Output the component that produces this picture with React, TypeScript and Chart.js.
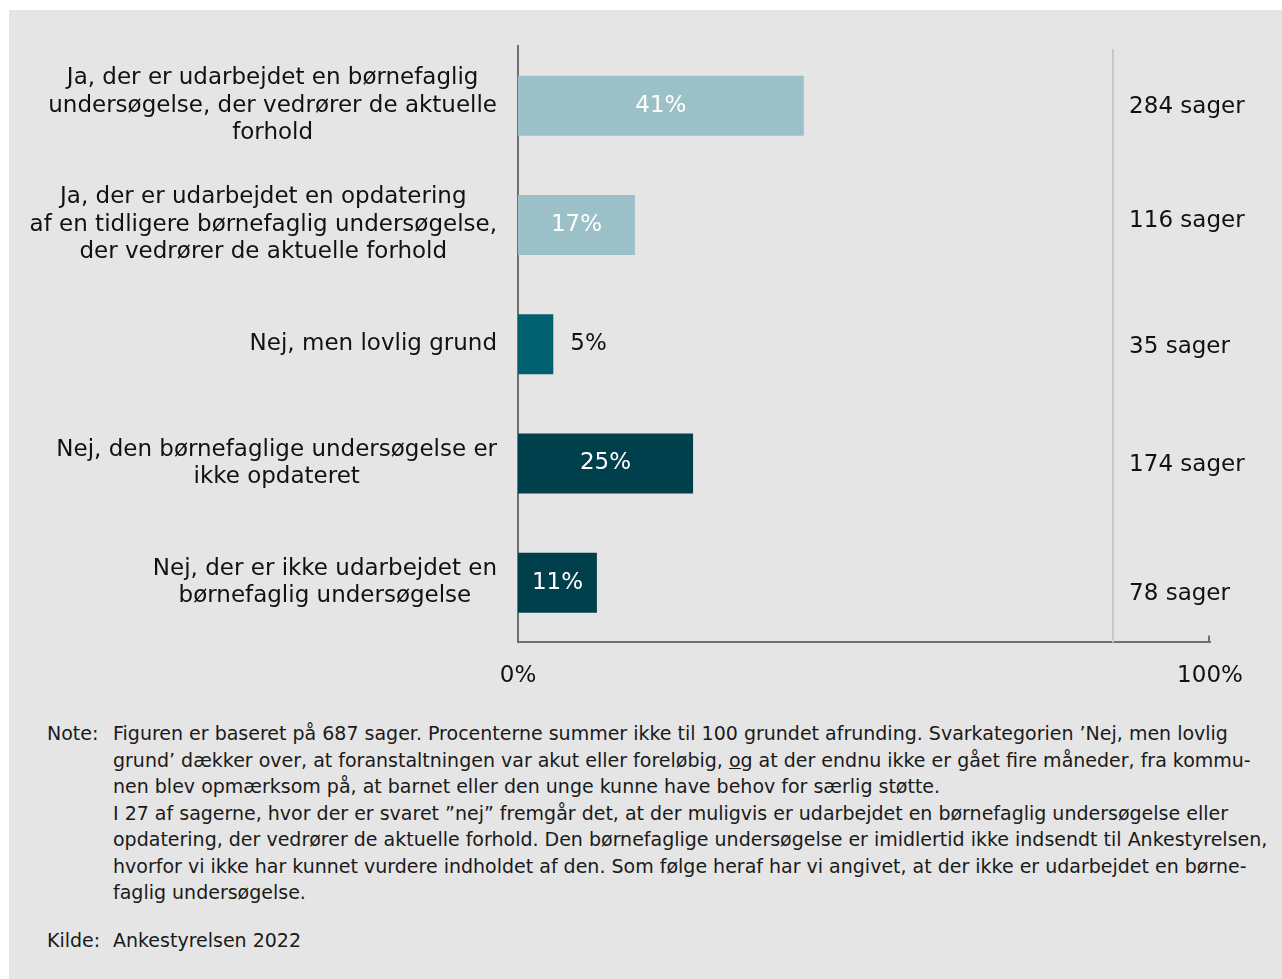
import React, { useEffect, useRef } from "react";
import { Chart, registerables } from "chart.js";

Chart.register(...registerables);

const categoryLines: string[][] = [
  ["Ja, der er udarbejdet en børnefaglig", "undersøgelse, der vedrører de aktuelle", "forhold"],
  ["Ja, der er udarbejdet en opdatering", "af en tidligere børnefaglig undersøgelse,", "der vedrører de aktuelle forhold"],
  ["Nej, men lovlig grund"],
  ["Nej, den børnefaglige undersøgelse er", "ikke opdateret"],
  ["Nej, der er ikke udarbejdet en", "børnefaglig undersøgelse"],
];
// unrounded shares (bar lengths) and the rounded labels shown on the bars
const barShares = [41.3, 16.9, 5.1, 25.3, 11.4];
const percentages = [41, 17, 5, 25, 11];
const caseCounts = [284, 116, 35, 174, 78];
const barColors = ["#9BC0C7", "#9BC0C7", "#00606E", "#003F4C", "#003F4C"];
const xTickValues = [0, 100];
const dividerValue = 86;
const countLabelNudge = [1, -4, 3, 2, 11];

const noteLines = [
  "Figuren er baseret på 687 sager. Procenterne summer ikke til 100 grundet afrunding. Svarkategorien ’Nej, men lovlig",
  "grund’ dækker over, at foranstaltningen var akut eller foreløbig, |og| at der endnu ikke er gået fire måneder, fra kommu-",
  "nen blev opmærksom på, at barnet eller den unge kunne have behov for særlig støtte.",
  "I 27 af sagerne, hvor der er svaret ”nej” fremgår det, at der muligvis er udarbejdet en børnefaglig undersøgelse eller",
  "opdatering, der vedrører de aktuelle forhold. Den børnefaglige undersøgelse er imidlertid ikke indsendt til Ankestyrelsen,",
  "hvorfor vi ikke har kunnet vurdere indholdet af den. Som følge heraf har vi angivet, at der ikke er udarbejdet en børne-",
  "faglig undersøgelse.",
];
const sourceText = "Ankestyrelsen 2022";

const FONT = '"DejaVu Sans", Verdana, sans-serif';
const AXIS_COLOR = "#707070";

const decorPlugin = {
  id: "decor",
  beforeDatasetsDraw(chart: any) {
    const { ctx, chartArea, scales } = chart;
    const x = scales.x;
    const px = Math.round(x.getPixelForValue(dividerValue));
    ctx.save();
    ctx.strokeStyle = "#C8C8C8";
    ctx.lineWidth = 2;
    ctx.beginPath();
    ctx.moveTo(px, chartArea.top + 3);
    ctx.lineTo(px, chartArea.bottom);
    ctx.stroke();
    ctx.restore();
  },
  afterDraw(chart: any) {
    const { ctx, chartArea, scales } = chart;
    const x = scales.x;
    const y = scales.y;
    ctx.save();
    const p100 = x.getPixelForValue(100);
    ctx.strokeStyle = AXIS_COLOR;
    ctx.lineWidth = 2;
    ctx.beginPath();
    ctx.moveTo(p100 - 1, chartArea.bottom);
    ctx.lineTo(p100 - 1, chartArea.bottom - 7);
    ctx.stroke();

    ctx.font = `23px ${FONT}`;
    ctx.textBaseline = "middle";
    ctx.fillStyle = "#111";
    categoryLines.forEach((lines, i) => {
      const cy = y.getPixelForValue(i);
      const widths = lines.map((l) => ctx.measureText(l).width);
      const maxW = Math.max(...widths);
      const cx = chartArea.left - 21 - maxW / 2;
      ctx.textAlign = "center";
      lines.forEach((l, j) => {
        const ly = cy + (j - (lines.length - 1) / 2) * 27.5;
        ctx.fillText(l, cx, ly);
      });
    });
    const meta = chart.getDatasetMeta(0);
    meta.data.forEach((bar: any, i: number) => {
      const v = percentages[i];
      const txt = `${v}%`;
      if (v >= 8) {
        ctx.fillStyle = "#FFFFFF";
        ctx.textAlign = "center";
        ctx.fillText(txt, (bar.x + bar.base) / 2, bar.y);
      } else {
        ctx.fillStyle = "#111";
        ctx.textAlign = "left";
        ctx.fillText(txt, bar.x + 17, bar.y);
      }
    });
    const dx = x.getPixelForValue(dividerValue) + 16;
    ctx.fillStyle = "#111";
    ctx.textAlign = "left";
    caseCounts.forEach((c, i) => {
      ctx.fillText(`${c} sager`, dx, y.getPixelForValue(i) + countLabelNudge[i]);
    });
    ctx.restore();
  },
};

function ChartCanvas() {
  const ref = useRef<HTMLCanvasElement | null>(null);
  useEffect(() => {
    if (!ref.current) return;
    const chart = new Chart(ref.current, {
      type: "bar",
      data: {
        labels: categoryLines.map((l) => l.join(" ")),
        datasets: [
          {
            data: barShares,
            backgroundColor: barColors,
            borderWidth: 0,
            categoryPercentage: 1,
            barPercentage: 0.503,
          },
        ],
      },
      options: {
        indexAxis: "y",
        responsive: false,
        animation: false,
        events: [],
        layout: { padding: { left: 509, top: 36, right: 72, bottom: 0 } },
        plugins: { legend: { display: false }, tooltip: { enabled: false }, title: { display: false } },
        scales: {
          x: {
            type: "linear",
            min: 0,
            max: 100,
            position: "bottom",
            grid: { display: false, drawTicks: false },
            border: { display: true, color: AXIS_COLOR, width: 2 },
            afterBuildTicks: (s: any) => {
              s.ticks = xTickValues.map((v) => ({ value: v }));
            },
            ticks: {
              autoSkip: false,
              maxRotation: 0,
              padding: 20,
              color: "#111",
              font: { family: FONT, size: 23 },
              callback: (v: any) => `${v}%`,
            },
          },
          y: {
            type: "category",
            grid: { display: false, drawTicks: false },
            border: { display: true, color: AXIS_COLOR, width: 2 },
            ticks: { display: false },
          },
        },
      } as any,
      plugins: [decorPlugin],
    });
    return () => chart.destroy();
  }, []);
  return <canvas ref={ref} width={1273} height={700} style={{ display: "block", width: 1273, height: 700 }} />;
}

function renderLine(line: string) {
  const parts = line.split("|");
  return parts.map((p, i) => (i % 2 === 1 ? <u key={i}>{p}</u> : <span key={i}>{p}</span>));
}

export default function App() {
  return (
    <div
      style={{
        position: "absolute",
        left: 9,
        top: 10,
        width: 1273,
        height: 969,
        background: "#E5E5E5",
        fontFamily: FONT,
        overflow: "hidden",
      }}
    >
      <ChartCanvas />
      <div
        style={{
          position: "absolute",
          top: 710,
          left: 38,
          fontSize: 19,
          lineHeight: "26.5px",
          color: "#1a1a1a",
          whiteSpace: "nowrap",
        }}
      >
        <div style={{ display: "flex" }}>
          <div style={{ width: 66 }}>Note:</div>
          <div>
            {noteLines.map((l, i) => (
              <div key={i}>{renderLine(l)}</div>
            ))}
          </div>
        </div>
        <div style={{ display: "flex", marginTop: 21 }}>
          <div style={{ width: 66 }}>Kilde:</div>
          <div>{sourceText}</div>
        </div>
      </div>
    </div>
  );
}
